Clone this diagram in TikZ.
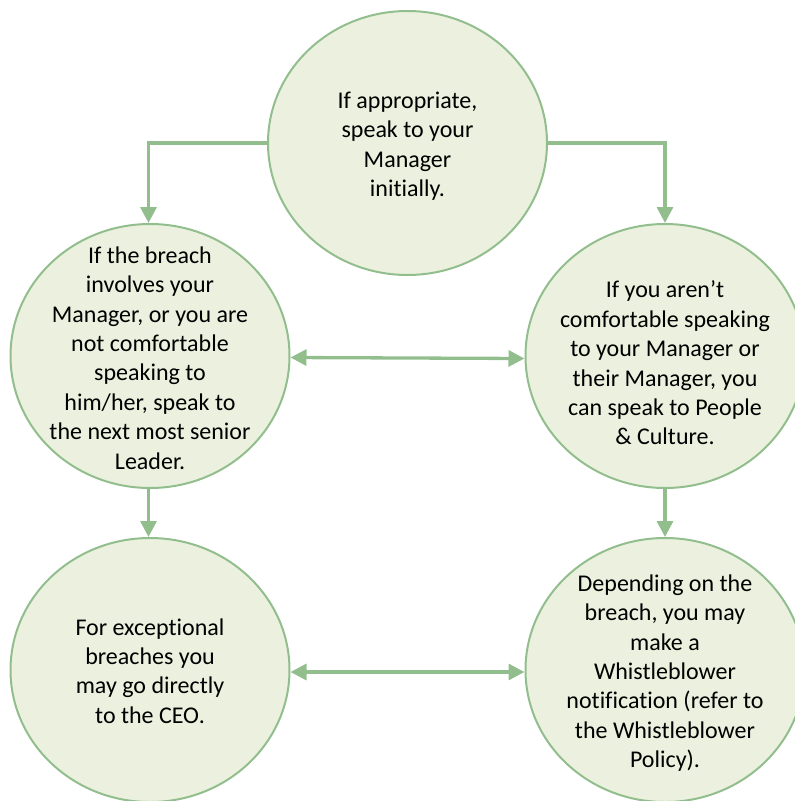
\documentclass[tikz,border=0pt]{standalone}
\usepackage{fontspec}
\setmainfont[Ligatures={NoCommon}]{Carlito}
\usetikzlibrary{shapes.geometric,arrows.meta}
\definecolor{cfill}{RGB}{235,241,222}
\definecolor{cline}{RGB}{146,190,142}
\tikzset{
  bubble/.style={ellipse, draw=cline, line width=2pt, fill=cfill, inner sep=0pt,
    minimum width=279pt, minimum height=264pt},
  btext/.style={align=center, inner sep=0pt,
    font=\fontsize{24}{29.4}\selectfont, text=black},
  arr/.style={draw=cline, line width=3.3pt, -{Triangle[length=16pt,width=16pt]}},
  darr/.style={draw=cline, line width=3.3pt, {Triangle[length=16pt,width=16pt]}-{Triangle[length=16pt,width=16pt]}},
}
\begin{document}
\begin{tikzpicture}[x=1pt,y=-1pt]
\useasboundingbox (0,0) rectangle (795,801);
\node[bubble] (top) at (407.5,143) {};
\node[bubble] (left) at (150,356) {};
\node[bubble] (right) at (665,356) {};
\node[bubble] (bl) at (150,670) {};
\node[bubble] (br) at (665,670) {};
\node[btext] (ttop) at (407.5,146) {If appropriate,\\speak to your\\Manager\\initially.};
\node[btext] (tleft) at (150,358) {If the breach\\involves your\\Manager, or you are\\not comfortable\\speaking to\\him/her, speak to\\the next most senior\\Leader.};
\node[btext] (tright) at (665,363) {If you aren’t\\comfortable speaking\\to your Manager or\\their Manager, you\\can speak to People\\\& Culture.};
\node[btext] (tbl) at (150,671) {For exceptional\\breaches you\\may go directly\\to the CEO.};
\node[btext] (tbr) at (665,673) {Depending on the\\breach, you may\\make a\\Whistleblower\\notification (refer to\\the Whistleblower\\Policy).};
\draw[arr] (top.west) -| ([xshift=-1.5pt]left.north);
\draw[arr] (top.east) -| (right.north);
\draw[darr] ([yshift=-1.5pt]left.east) -- ([yshift=-2.5pt]right.west);
\draw[darr] ([yshift=-2pt]bl.east) -- ([yshift=-2pt]br.west);
\draw[arr] ([xshift=-1.5pt]left.south) -- ([xshift=-1.5pt]bl.north);
\draw[arr] (right.south) -- (br.north);
\end{tikzpicture}
\end{document}
